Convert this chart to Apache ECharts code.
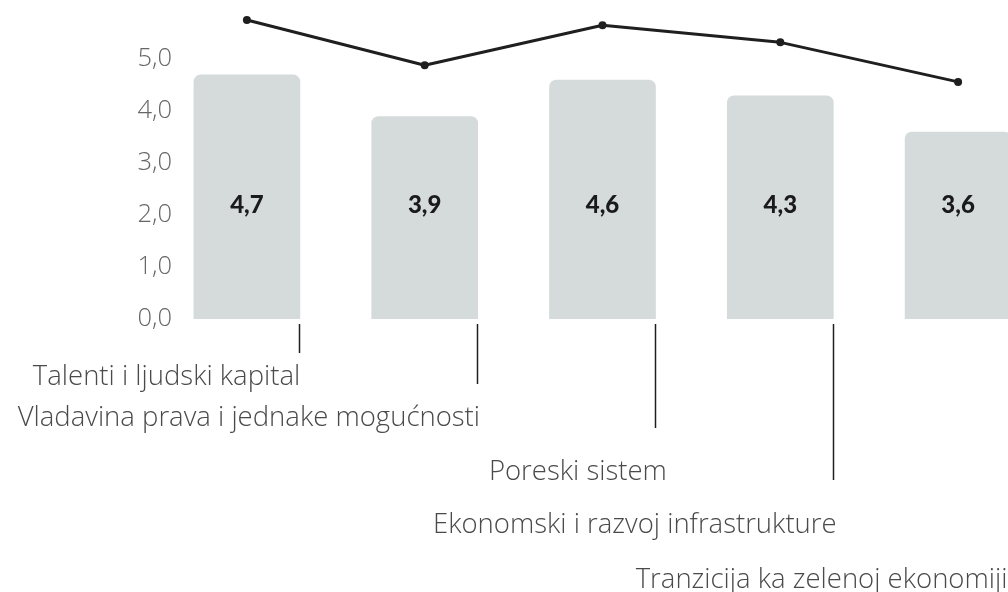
<!DOCTYPE html>
<html>
<head>
<meta charset="utf-8">
<style>
  html, body { margin: 0; padding: 0; background: #ffffff; overflow: hidden; width: 1008px; height: 592px; }
  /* the plot continues a little past the right edge of the page */
  #chart { width: 1047px; height: 592px; }
</style>
<script src="https://cdn.jsdelivr.net/npm/echarts@6/dist/echarts.min.js"></script>
</head>
<body>
<div id="chart"></div>
<script>
// Pillar names, in drawing order
var categories = [
  'Talenti i ljudski kapital',
  'Vladavina prava i jednake mogućnosti',
  'Poreski sistem',
  'Ekonomski i razvoj infrastrukture',
  'Tranzicija ka zelenoj ekonomiji'
];

// Scores shown as bars
var barValues = [4.7, 3.9, 4.6, 4.3, 3.6];

// Comparison scores shown as the line
var lineValues = [5.75, 4.88, 5.65, 5.32, 4.56];

// Value axis ticks
var yTicks = [0, 1, 2, 3, 4, 5];

// Staggered name labels below the axis: leader length and text drop (px)
var leaderLength = [34, 65, 109, 161, 213];
var labelDrop = [58, 99, 153, 206, 261];
var labelShift = [0, 2, 11, 3, -4];

function fmt(v) {
  return v.toFixed(1).replace('.', ',');
}

var chart = echarts.init(document.getElementById('chart'), null, { renderer: 'canvas' });

var option = {
  animation: false,
  backgroundColor: '#ffffff',
  grid: { left: 158, right: 0, top: 7, bottom: 273, containLabel: false },
  xAxis: {
    type: 'category',
    data: categories,
    axisLine: { show: false },
    axisTick: { show: false },
    axisLabel: { show: false },
    splitLine: { show: false }
  },
  yAxis: {
    type: 'value',
    min: 0,
    max: 6,
    interval: 1,
    axisLine: { show: false },
    axisTick: { show: false },
    splitLine: { show: false },
    axisLabel: {
      margin: -14,
      fontFamily: 'Open Sans',
      fontWeight: 300,
      fontSize: 25.5,
      color: '#666666',
      formatter: function (v) {
        return yTicks.indexOf(v) >= 0 ? fmt(v) : '';
      }
    }
  },
  series: [
    {
      type: 'bar',
      data: barValues,
      barCategoryGap: '40%',
      itemStyle: { color: '#d5dbdb', borderRadius: [7, 7, 0, 0] },
      label: {
        show: true,
        position: 'insideBottom',
        distance: 102,
        fontFamily: 'Lato',
        fontWeight: 900,
        fontSize: 24,
        lineHeight: 24,
        color: '#1a1a1a',
        formatter: function (p) { return fmt(p.value); }
      },
      z: 1
    },
    {
      type: 'line',
      data: lineValues,
      symbol: 'circle',
      symbolSize: 8,
      lineStyle: { color: '#1f1f1f', width: 3 },
      itemStyle: { color: '#1f1f1f' },
      label: { show: false },
      z: 3
    },
    {
      // leader lines and staggered category names
      type: 'custom',
      data: categories.map(function (c, i) { return [i]; }),
      clip: false,
      silent: true,
      renderItem: function (params, api) {
        var i = api.value(0);
        var base = api.coord([i, 0]);
        var band = api.size([1, 0])[0];
        var edge = base[0] + band * 0.3;
        var lx = Math.round(edge) - 0.5;
        return {
          type: 'group',
          children: [
            {
              type: 'line',
              shape: { x1: lx, y1: base[1] + 5, x2: lx, y2: base[1] + leaderLength[i] },
              style: { stroke: '#1f1f1f', lineWidth: 1.5 }
            },
            {
              type: 'text',
              x: edge + labelShift[i],
              y: base[1] + labelDrop[i],
              style: {
                text: categories[i],
                align: 'right',
                verticalAlign: 'middle',
                fontFamily: 'Open Sans',
                fontWeight: 300,
                fontSize: 27.5,
                fill: '#4a4a4a'
              }
            }
          ]
        };
      },
      z: 2
    }
  ]
};

chart.setOption(option);
</script>
</body>
</html>
